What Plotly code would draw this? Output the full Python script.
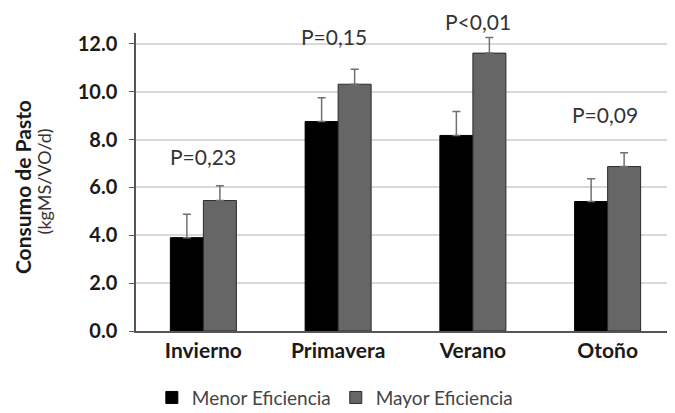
import plotly.graph_objects as go

categories = ["Invierno", "Primavera", "Verano", "Otoño"]
menor = [3.9, 8.75, 8.17, 5.41]
menor_err = [0.98, 1.0, 1.0, 0.95]
mayor = [5.45, 10.31, 11.61, 6.87]
mayor_err = [0.62, 0.63, 0.65, 0.58]
p_labels = ["P=0,23", "P=0,15", "P<0,01", "P=0,09"]
p_pos = [0.584, 0.987, 1.037, 0.725]   # paper-y positions of the P labels
p_shift = [0, -4, 5, -3]

FONT = "Lato"

fig = go.Figure()
fig.add_trace(go.Bar(
    x=categories, y=menor, name="Menor Eficiencia",
    marker=dict(color="#000000", line=dict(color="#000000", width=1)),
    error_y=dict(type="data", array=menor_err, arrayminus=[0]*4, symmetric=False,
                 color="#707070", thickness=1.5, width=4),
))
fig.add_trace(go.Bar(
    x=categories, y=mayor, name="Mayor Eficiencia",
    marker=dict(color="#666666", line=dict(color="#2a2a2a", width=1)),
    error_y=dict(type="data", array=mayor_err, arrayminus=[0]*4, symmetric=False,
                 color="#707070", thickness=1.5, width=4),
))

for c, t, yy, xs in zip(categories, p_labels, p_pos, p_shift):
    fig.add_annotation(x=c, y=yy, text=t, showarrow=False, xref="x", yref="paper",
                       xanchor="center", yanchor="middle",
                       xshift=xs, font=dict(family=FONT, size=21, color="#333333"))

fig.add_annotation(x=0, y=0.483, xref="paper", yref="paper", xshift=-114,
                   xanchor="center", yanchor="middle",
                   text="<b>Consumo de Pasto</b>", textangle=-90, showarrow=False,
                   font=dict(family=FONT, size=21, color="#1a1a1a"))
fig.add_annotation(x=0, y=0.502, xref="paper", yref="paper", xshift=-92,
                   xanchor="center", yanchor="middle",
                   text="(kgMS/VO/d)", textangle=-90, showarrow=False,
                   font=dict(family=FONT, size=18, color="#333333"))

fig.update_layout(
    width=667, height=405,
    margin=dict(l=128, r=0, t=25, b=82),
    plot_bgcolor="white", paper_bgcolor="white",
    barmode="group", bargap=0.51, bargroupgap=0,
    font=dict(family=FONT, color="#222222"),
    showlegend=True,
    legend=dict(orientation="h", xref="container", yref="container",
                x=0.49, y=0.038, xanchor="center", yanchor="middle",
                font=dict(family=FONT, size=19, color="#444444"),
                itemwidth=30, traceorder="normal"),
    xaxis=dict(showline=True, linecolor="#555555", linewidth=1.5,
               tickfont=dict(family=FONT, size=21, color="#1a1a1a", weight="bold"),
               ticks="", showgrid=False),
    yaxis=dict(range=[0, 12.45], tickvals=[0, 2, 4, 6, 8, 10, 12],
               tickformat=".1f", showline=True, linecolor="#555555", linewidth=1.5,
               ticks="outside", ticklen=5, tickcolor="#555555",
               gridcolor="#d9d9d9", gridwidth=1.5, ticklabelstandoff=8,
               tickfont=dict(family=FONT, size=20, color="#1a1a1a", weight="bold"),
               zeroline=False),
)

fig.write_html("out.html")
